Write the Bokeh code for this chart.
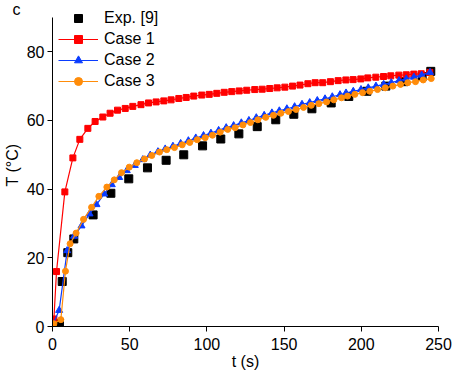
from bokeh.plotting import figure
from bokeh.models import Range1d, Legend, LegendItem, Title
from bokeh.embed import file_html
from bokeh.resources import INLINE

# Experimental data (black squares)
exp_t = [4.5, 6.3, 9.9, 13.8, 26.3, 37.8, 49.4, 61.5, 73.6, 85.0, 97.2, 109.0, 120.7,
         132.6, 144.6, 156.3, 168.0, 180.5, 191.9, 203.6, 215.9, 227.5, 239.4, 245.0]
exp_T = [0.9, 13.1, 21.5, 25.5, 32.5, 38.8, 43.0, 46.2, 48.4, 50.0, 52.6, 54.6, 56.1,
         58.2, 60.2, 61.8, 63.4, 65.1, 67.0, 68.5, 70.0, 71.3, 72.8, 74.3]

# Case 1 (red squares)
c1_t = [0, 0.9, 2.6, 8, 13.2, 17.7, 22.9, 27.6, 32.6, 37.3,
        42.1, 47.1, 52, 57.3, 62.2, 67.1, 72.1, 76.8, 81.8, 86.6,
        91.5, 96.7, 101.5, 106.4, 111.2, 116.1, 120.9, 125.8, 131, 135.8,
        140.7, 145.5, 150.5, 155.5, 160.3, 165.4, 170.1, 175, 180, 185,
        190, 194.7, 199.7, 204.2, 209.4, 214.4, 219.1, 224.3, 229.1, 234,
        238.8, 244.4]
c1_T = [0.5, 2.2, 16.0, 39.2, 49.1, 54.5, 57.7, 59.7, 61.0, 62.1,
        63.0, 63.5, 64.1, 64.6, 65.1, 65.4, 65.7, 66.0, 66.4, 66.7,
        67.1, 67.4, 67.6, 67.9, 68.2, 68.4, 68.6, 68.8, 69.0, 69.1,
        69.3, 69.5, 69.7, 70.0, 70.3, 70.7, 71.0, 71.0, 71.3, 71.6,
        71.8, 71.9, 72.1, 72.4, 72.6, 72.8, 73.0, 73.2, 73.3, 73.5,
        73.6, 74.0]

# Case 2 (blue triangles)
c2_t = [0, 4.3, 9.5, 14, 18.8, 24, 28.5, 33.5, 38.4, 43.2,
        48.1, 53.3, 58.5, 63.3, 68.3, 73, 78, 83, 88, 92.8,
        97.8, 102.6, 107.6, 112.5, 117.3, 122.3, 127.2, 132, 137.1, 142.1,
        146.9, 151.8, 156.8, 161.6, 166.6, 171.5, 176.5, 181.2, 186.2, 190.1,
        194.8, 199.8, 204.5, 209.5, 214.5, 219.4, 224.4, 229.1, 234.1, 239.1,
        244.5]
c2_T = [0.3, 4.7, 22.1, 26.3, 29.3, 32.8, 35.5, 38.6, 41.3, 43.4,
        45.4, 46.9, 48.6, 49.9, 50.9, 51.7, 52.5, 53.3, 54.1, 54.9,
        55.6, 56.3, 57.1, 57.9, 58.5, 59.3, 60.0, 60.8, 61.5, 62.2,
        62.8, 63.4, 64.0, 64.7, 65.2, 65.8, 66.3, 66.9, 67.5, 68.0,
        68.5, 69.0, 69.5, 70.0, 70.5, 71.0, 71.6, 72.1, 72.6, 73.2,
        74.0]

# Case 3 (orange circles)
c3_t = [0.9, 5.4, 8.4, 11.4, 15.3, 20.1, 25.3, 30, 35.2, 40,
        44.7, 49.7, 54.6, 59.6, 64.3, 69.3, 74, 79, 84, 88.9,
        93.7, 98.9, 103.6, 108.6, 113.5, 118.3, 123.3, 128.2, 133, 138.1,
        143.1, 147.9, 152.8, 157.8, 162.6, 167.6, 172.5, 177.5, 182.2, 187.2,
        191.1, 195.8, 200.8, 205.5, 210.5, 215.5, 220.4, 225.4, 230.1, 235.1,
        240.1, 245.3]
c3_T = [0.8, 2.0, 16.1, 24.1, 27.2, 31.2, 34.7, 37.9, 40.6, 42.7,
        44.8, 46.4, 47.7, 48.8, 49.8, 50.8, 51.5, 52.1, 52.9, 53.6,
        54.4, 55.0, 55.7, 56.6, 57.4, 57.9, 58.7, 59.4, 60.2, 60.9,
        61.5, 62.1, 62.6, 63.2, 63.8, 64.4, 64.9, 65.4, 66.0, 66.6,
        67.1, 67.6, 68.1, 68.5, 69.0, 69.5, 70.0, 70.5, 71.0, 71.3,
        71.8, 72.2]

x_ticks = [0, 50, 100, 150, 200, 250]
y_ticks = [0, 20, 40, 60, 80]
labels = ["Exp. [9]", "Case 1", "Case 2", "Case 3"]
panel_label = "c"

FONT = "Liberation Sans"
RED, BLUE, ORANGE = "#ff0000", "#0a3cff", "#ff8c0a"

# frame spans 3..326 px vertically so the legend above the T=90 line is not clipped
p = figure(width=460, height=372, output_backend="svg", toolbar_location=None,
           x_range=Range1d(0, 250), y_range=Range1d(0, 94.06),
           min_border_left=52, min_border_right=22, min_border_top=3, min_border_bottom=46)
p.outline_line_color = None
p.grid.visible = False

for ax in (p.xaxis[0], p.yaxis[0]):
    ax.axis_line_color = "black"
    ax.axis_line_width = 1
    ax.major_tick_out = 5
    ax.major_tick_in = 0
    ax.minor_tick_out = 3
    ax.minor_tick_in = 0
    ax.major_label_text_font = FONT
    ax.major_label_text_font_size = "16px"
    ax.major_label_text_color = "black"
    ax.axis_label_text_font = FONT
    ax.axis_label_text_font_size = "16px"
    ax.axis_label_text_font_style = "normal"
    ax.axis_label_text_color = "black"

p.xaxis.ticker = x_ticks
p.yaxis.ticker = y_ticks
p.xaxis[0].ticker.num_minor_ticks = 2
p.yaxis[0].ticker.num_minor_ticks = 2
p.yaxis.bounds = (0, 90)
p.xaxis.axis_label = "t (s)"
p.yaxis.axis_label = "T (°C)"
p.xaxis.major_label_standoff = 6
p.yaxis.major_label_standoff = 3
p.xaxis.axis_label_standoff = 0
p.yaxis.axis_label_standoff = 3

r_exp = p.scatter(exp_t, exp_T, marker="square", size=8, color="black")
l1 = p.line(c1_t, c1_T, line_color=RED, line_width=1.2)
s1 = p.scatter(c1_t, c1_T, marker="square", size=6, color=RED)
l2 = p.line(c2_t, c2_T, line_color=BLUE, line_width=1.2)
s2 = p.scatter(c2_t, c2_T, marker="triangle", size=7, color=BLUE)
l3 = p.line(c3_t, c3_T, line_color=ORANGE, line_width=1.2)
s3 = p.scatter(c3_t, c3_T, marker="circle", size=6, color=ORANGE)

legend = Legend(items=[
    LegendItem(label=labels[0], renderers=[r_exp]),
    LegendItem(label=labels[1], renderers=[l1, s1]),
    LegendItem(label=labels[2], renderers=[l2, s2]),
    LegendItem(label=labels[3], renderers=[l3, s3]),
], location=(6, 235))
legend.glyph_width = 40
legend.glyph_height = 20
legend.label_height = 20
legend.spacing = 1
legend.padding = 0
legend.margin = 0
legend.label_standoff = 6
legend.border_line_color = None
legend.background_fill_alpha = 0
legend.label_text_font = FONT
legend.label_text_font_size = "16px"
legend.label_text_color = "black"
p.add_layout(legend)

p.add_layout(Title(text=panel_label, align="left", offset=-40, standoff=-28,
                   vertical_align="bottom", text_font=FONT, text_font_size="16px",
                   text_font_style="normal", text_color="black"), "above")

open("out.html", "w").write(file_html(p, INLINE))
